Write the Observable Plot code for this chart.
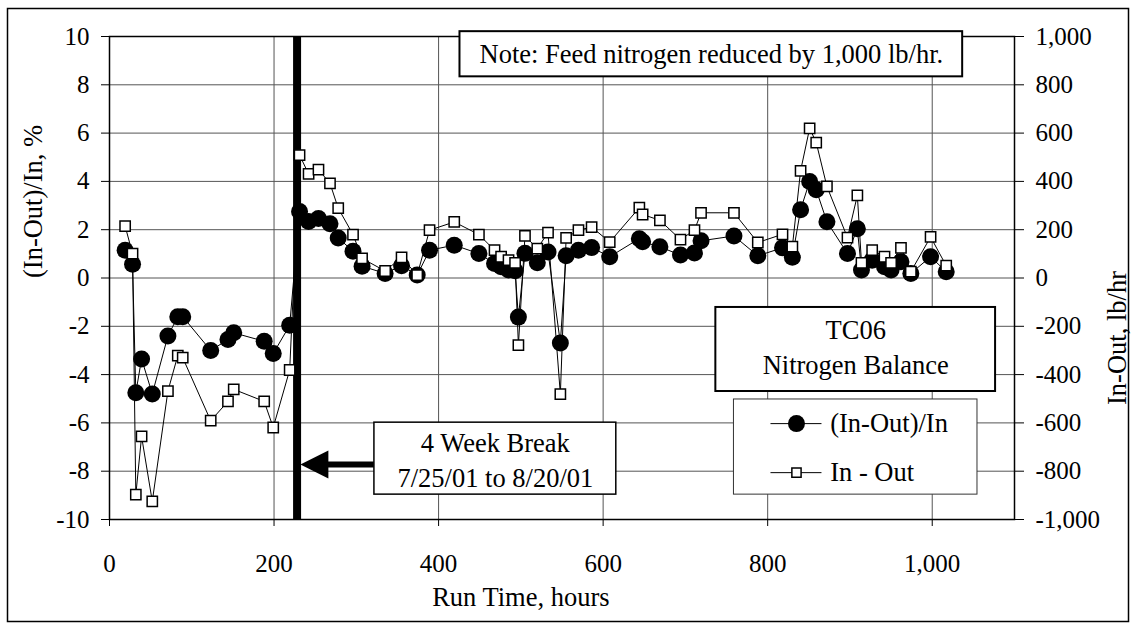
<!DOCTYPE html>
<html>
<head>
<meta charset="utf-8">
<script src="https://cdn.jsdelivr.net/npm/d3@7"></script>
<script src="https://cdn.jsdelivr.net/npm/@observablehq/plot@0.6"></script>
<style>
  html, body { margin: 0; padding: 0; background: white; }
  #chart { width: 1136px; height: 629px; }
</style>
</head>
<body>
<div id="chart"></div>
<script>
// ---- Data ----
const runHours = [19, 28, 32, 39, 52, 71, 83, 89, 123, 144, 151, 188, 199, 219,
  231, 242, 254, 268, 278, 296, 307, 335, 355, 374, 389, 419, 449, 468, 476, 485, 493, 497,
  505, 520, 533, 548, 555, 570, 586, 608, 644, 648, 669, 694, 711, 719, 759, 788, 818, 830,
  840, 851, 859, 872, 897, 909, 914, 927, 942, 950, 962, 974, 998, 1017];
const pctBalance = [1.15, 0.57, -4.75, -3.35, -4.8, -2.4, -1.6, -1.6, -3.0, -2.55, -2.27, -2.62, -3.13, -1.96,
  2.75, 2.34, 2.46, 2.25, 1.66, 1.11, 0.49, 0.19, 0.51, 0.12, 1.15, 1.36, 1.01, 0.6, 0.47, 0.33, 0.3, -1.62,
  1.02, 0.63, 1.08, -2.69, 0.92, 1.15, 1.26, 0.88, 1.63, 1.5, 1.29, 0.95, 1.04, 1.54, 1.74, 0.92, 1.25, 0.86,
  2.83, 4.0, 3.65, 2.33, 1.01, 2.04, 0.33, 0.74, 0.47, 0.33, 0.67, 0.19, 0.88, 0.26];
const lbBalance = [215, 101, -897, -656, -925, -468, -321, -330, -591, -511, -461, -511, -619, -381,
  509, 431, 449, 392, 289, 180, 81, 29, 85, 12, 198, 232, 180, 115, 88, 74, 63, -278,
  174, 122, 188, -481, 166, 198, 211, 149, 291, 263, 239, 159, 198, 270, 270, 147, 181, 130,
  444, 620, 561, 379, 167, 342, 63, 115, 88, 63, 125, 26, 170, 51];

const xTicks = [0, 200, 400, 600, 800, 1000];
const yTicks = [-10, -8, -6, -4, -2, 0, 2, 4, 6, 8, 10];
const breakHour = 228;

const seriesNames = ["(In-Out)/In", "In - Out"];
const noteText = "Note: Feed nitrogen reduced by 1,000 lb/hr.";
const breakText = ["4 Week Break", "7/25/01 to 8/20/01"];
const titleText = ["TC06", "Nitrogen Balance"];

// ---- Build table ----
const rows = runHours.map((h, i) => ({h, pct: pctBalance[i], lb: lbBalance[i] / 100}));

const fmt = v => (v < 0 ? "-" : "") + d3.format(",")(Math.abs(Math.round(v)));
const TICKFONT = 25;
const FONT = 26.5;

// annotation geometry in data units
const noteBox = {x1: 426, x2: 1037, y1: 8.33, y2: 10.2};
const breakBox = {x1: 322, x2: 616, y1: -8.97, y2: -5.99};
const titleBox = {x1: 737, x2: 1077, y1: -4.7, y2: -1.22};
const legendBox = {x1: 759, x2: 1055, y1: -8.97, y2: -5.03};
const legendRows = [{y: -6.03, name: seriesNames[0], kind: "circle"}, {y: -8.06, name: seriesNames[1], kind: "square"}];

const leftTriangle = {
  draw(ctx) { ctx.moveTo(0, 0); ctx.lineTo(28, -14); ctx.lineTo(28, 14); ctx.closePath(); }
};

const chart = Plot.plot({
  width: 1136,
  height: 629,
  marginLeft: 109,
  marginRight: 122,
  marginTop: 36,
  marginBottom: 110,
  style: {fontFamily: "'Liberation Serif', 'Times New Roman', serif", fontSize: TICKFONT + "px", background: "white", color: "black"},
  x: {domain: [0, 1100]},
  y: {domain: [-10, 10]},
  marks: [
    Plot.gridY(yTicks, {stroke: "#555", strokeOpacity: 1, strokeWidth: 1}),
    Plot.gridX(xTicks, {stroke: "#555", strokeOpacity: 1, strokeWidth: 1}),
    Plot.frame({stroke: "black", strokeWidth: 1.5}),
    Plot.axisX({ticks: xTicks, tickFormat: fmt, tickSize: 7, tickPadding: 28, label: null, fontSize: TICKFONT}),
    Plot.axisY({anchor: "left", ticks: yTicks, tickFormat: fmt, tickSize: 8, tickPadding: 12, label: null, fontSize: TICKFONT}),
    Plot.axisY({anchor: "right", ticks: yTicks, tickFormat: d => fmt(d * 100), tickSize: 9, tickPadding: 12, label: null, fontSize: TICKFONT}),
    // axis titles
    Plot.text(["(In-Out)/In, %"], {frameAnchor: "left", dx: -76, rotate: -90, fontSize: FONT}),
    Plot.text(["In-Out, lb/hr"], {frameAnchor: "right", dx: 103, dy: -7, rotate: -90, fontSize: FONT}),
    Plot.text(["Run Time, hours"], {x: 500, frameAnchor: "bottom", dy: 86, fontSize: FONT}),
    // note box
    Plot.rect([noteBox], {x1: "x1", x2: "x2", y1: "y1", y2: "y2", fill: "white", stroke: "black", strokeWidth: 2}),
    Plot.text([noteText], {x: (noteBox.x1 + noteBox.x2) / 2, y: (noteBox.y1 + noteBox.y2) / 2, fontSize: FONT}),
    // break line and arrow
    Plot.ruleX([breakHour], {y1: -10, y2: 10, stroke: "black", strokeWidth: 8}),
    Plot.ruleY([-7.72], {x1: 255, x2: breakBox.x1, stroke: "black", strokeWidth: 6}),
    Plot.dot([{x: 232, y: -7.72}], {x: "x", y: "y", symbol: leftTriangle, r: 10, fill: "black", stroke: null}),
    Plot.rect([breakBox], {x1: "x1", x2: "x2", y1: "y1", y2: "y2", fill: "white", stroke: "black", strokeWidth: 1.5}),
    Plot.text(breakText, {x: (breakBox.x1 + breakBox.x2) / 2, y: (d, i) => i === 0 ? -6.85 : -8.3, fontSize: FONT}),
    // title box
    Plot.rect([titleBox], {x1: "x1", x2: "x2", y1: "y1", y2: "y2", fill: "white", stroke: "black", strokeWidth: 2}),
    Plot.text(titleText, {x: (titleBox.x1 + titleBox.x2) / 2, y: (d, i) => i === 0 ? -2.18 : -3.63, fontSize: FONT}),
    // legend
    Plot.rect([legendBox], {x1: "x1", x2: "x2", y1: "y1", y2: "y2", fill: "white", stroke: "#333", strokeWidth: 1}),
    Plot.ruleY(legendRows, {y: "y", x1: 804, x2: 866, stroke: "black", strokeWidth: 1}),
    Plot.dot(legendRows.filter(d => d.kind === "circle"), {x: 835, y: "y", r: 8.5, fill: "black"}),
    Plot.dot(legendRows.filter(d => d.kind === "square"), {x: 835, y: "y", r: 5.2, symbol: "square", fill: "white", stroke: "black", strokeWidth: 1.5}),
    Plot.text(legendRows, {x: 876, y: "y", text: "name", textAnchor: "start", fontSize: FONT}),
    // series 1: (In-Out)/In
    Plot.line(rows, {x: "h", y: "pct", stroke: "black", strokeWidth: 1}),
    Plot.dot(rows, {x: "h", y: "pct", r: 8.5, fill: "black"}),
    // series 2: In - Out
    Plot.line(rows, {x: "h", y: "lb", stroke: "black", strokeWidth: 1}),
    Plot.dot(rows, {x: "h", y: "lb", r: 5.8, symbol: "square", fill: "white", stroke: "black", strokeWidth: 1.5})
  ]
});

d3.select(chart).append("rect")
  .attr("x", 7.5).attr("y", 8.5).attr("width", 1121).attr("height", 613)
  .attr("fill", "none").attr("stroke", "black").attr("stroke-width", 1.5);

document.getElementById("chart").appendChild(chart);
</script>
</body>
</html>
